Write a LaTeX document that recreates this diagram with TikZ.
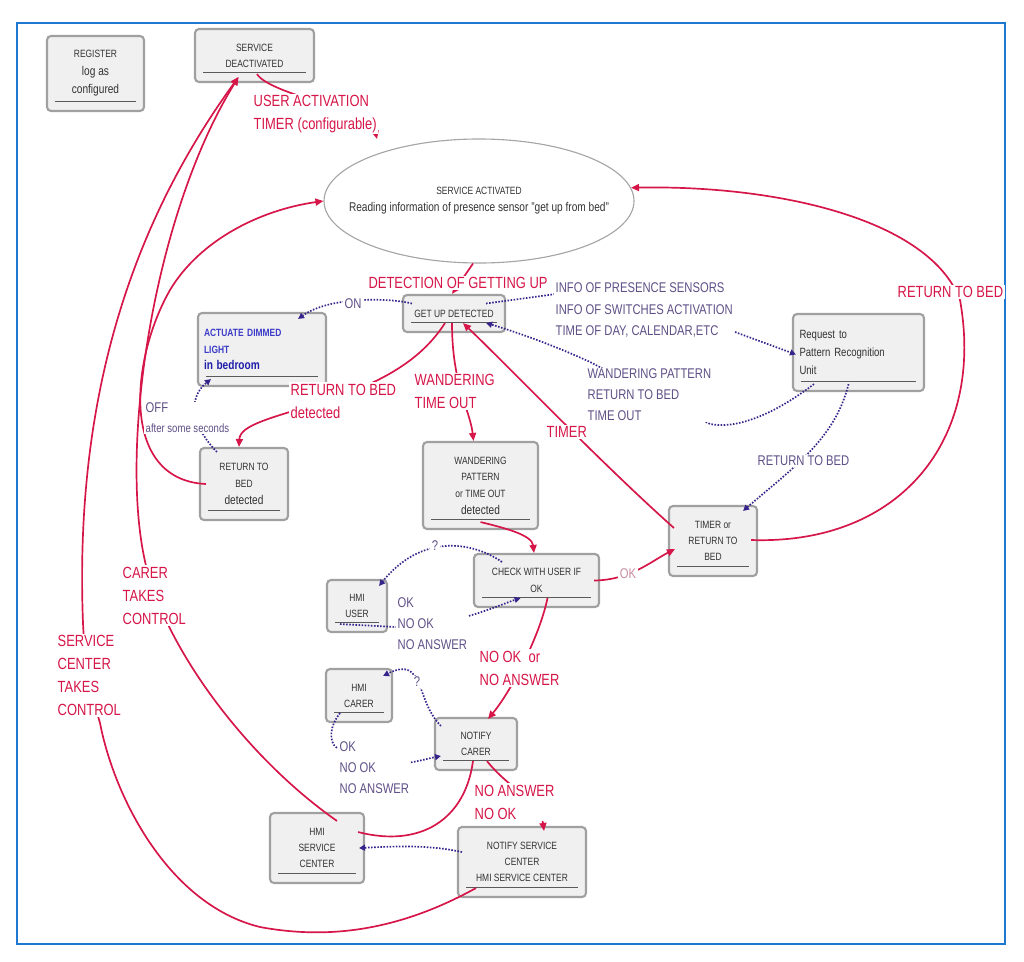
\documentclass[tikz,border=0pt]{standalone}
\usepackage{fontspec}
\setmainfont{Liberation Sans}[FakeStretch=0.8]
\usetikzlibrary{shapes.geometric,arrows.meta,calc}
\definecolor{redc}{RGB}{214,22,72}
\definecolor{purc}{RGB}{95,80,135}
\definecolor{dotc}{RGB}{55,35,140}
\definecolor{okc}{RGB}{200,140,160}
\definecolor{boxfill}{RGB}{240,240,240}
\definecolor{boxgray}{RGB}{160,160,160}
\definecolor{linegray}{RGB}{90,90,90}
\definecolor{boxtext}{RGB}{50,50,50}
\definecolor{ellgray}{RGB}{165,165,165}
\definecolor{lightblue}{RGB}{60,60,200}
\definecolor{darkblue}{RGB}{30,30,170}
\definecolor{framec}{RGB}{30,120,210}
\newcommand\boxbig{\fontsize{9}{12}\selectfont}
\pgfdeclarelayer{lines}
\pgfdeclarelayer{labels}
\pgfsetlayers{main,lines,labels}
\tikzset{
  innerline/.style={draw=linegray, line width=0.5pt},
  box/.style={draw=boxgray, line width=1.5pt, rounded corners=1mm, fill=boxfill,
    inner sep=0pt, align=center, text=boxtext, font=\fontsize{7.5}{11.4}\selectfont,
    path picture={\draw[innerline] ([xshift=2mm,yshift=2.3mm]path picture bounding box.south west)
      -- ([xshift=-2mm,yshift=2.3mm]path picture bounding box.south east);}},
  redlbl/.style={text=redc, fill=white, font=\fontsize{11.5}{16.4}\selectfont, align=left, inner sep=1pt, anchor=west},
  purlbl/.style={text=purc, fill=white, font=\fontsize{10}{15}\selectfont, align=left, inner sep=1pt, anchor=west},
  redplain/.style={draw=redc, line width=1.2pt},
  redarrow/.style={redplain, -{Triangle[length=2mm,width=1.75mm]}},
  dotarrow/.style={draw=dotc, line width=1.2pt, dash pattern=on 1.1pt off 1.1pt, -{Triangle[length=1.5mm,width=1.5mm]}},
}
\begin{document}
\begin{tikzpicture}[x=0.25mm, y=-0.25mm]
  \useasboundingbox (0,0) rectangle (1024,961);
  \draw[framec, line width=1.4pt] (17,23) rectangle (1005,944);

  % states
  \node[box, minimum width=24.25mm, minimum height=18.75mm, font=\fontsize{7.5}{12.8}\selectfont] (reg) at (95.5,73.5) {REGISTER\\{\boxbig log as}\\{\boxbig configured}};
  \node[box, minimum width=29.75mm, minimum height=13.25mm] (deact) at (254.5,55.5) {SERVICE\\DEACTIVATED};
  \node[ellipse, draw=ellgray, line width=0.8pt, minimum width=77.5mm, minimum height=31mm, inner sep=0pt] (act) at (479,201) {};
  \node[align=center, text=boxtext, font=\fontsize{9}{12}\selectfont] (acttxt) at (act.center) {{\fontsize{7.5}{9}\selectfont SERVICE ACTIVATED}\\Reading information of presence sensor "get up from bed"};
  \node[box, minimum width=25.5mm, minimum height=9.25mm] (getup) at (454,313.5) {GET UP DETECTED};
  \node[box, minimum width=32mm, minimum height=18.25mm, align=left, text width=29mm, text=lightblue, font=\bfseries\fontsize{7.5}{11.6}\selectfont] (light) at (262,349.5) {ACTUATE DIMMED\\LIGHT\\{\fontsize{9}{11}\selectfont\color{darkblue}in bedroom}};
  \node[box, minimum width=22mm, minimum height=18mm, font=\fontsize{7.5}{12}\selectfont] (retbed) at (244,484) {RETURN TO\\BED\\{\boxbig detected}};
  \node[box, minimum width=28.75mm, minimum height=21.75mm, font=\fontsize{7.5}{11.8}\selectfont] (wander) at (480.5,485.5) {WANDERING\\PATTERN\\or TIME OUT\\{\boxbig detected}};
  \node[box, minimum width=32.75mm, minimum height=19.25mm, align=left, text width=29.5mm, font=\fontsize{8.5}{13}\selectfont] (request) at (858.5,352.5) {Request to\\Pattern Recognition\\Unit};
  \node[box, minimum width=22mm, minimum height=17.5mm] (timer) at (713,541) {TIMER or\\RETURN TO\\BED};
  \node[box, minimum width=31.25mm, minimum height=13.25mm, font=\fontsize{7.5}{12}\selectfont] (check) at (536.5,580.5) {CHECK WITH USER IF\\OK};
  \node[box, minimum width=15mm, minimum height=13mm] (hmiuser) at (357,606) {HMI\\USER};
  \node[box, minimum width=16.5mm, minimum height=13.25mm] (hmicarer) at (359,695.5) {HMI\\CARER};
  \node[box, minimum width=20.5mm, minimum height=13mm] (notcarer) at (476,744) {NOTIFY\\CARER};
  \node[box, minimum width=23.5mm, minimum height=17.5mm] (hmisc) at (317,848) {HMI\\SERVICE\\CENTER};
  \node[box, minimum width=32mm, minimum height=17.5mm] (notsc) at (522,862) {NOTIFY SERVICE\\CENTER\\HMI SERVICE CENTER};

  % labels
  \begin{pgfonlayer}{labels}
  \node[redlbl] (useract) at (252,114) {USER ACTIVATION\\TIMER (configurable)};
  \node[redlbl, anchor=center] (detectlbl) at (458,283) {DETECTION OF GETTING UP};
  \node[redlbl] (retlbl) at (289,401) {RETURN TO BED\\detected};
  \node[redlbl] (wanderlbl) at (413,391.5) {WANDERING\\TIME OUT};
  \node[redlbl] (timerlbl) at (545,432) {TIMER};
  \node[redlbl] (retrightlbl) at (896,292) {RETURN TO BED};
  \node[redlbl] (carerlbl) at (121,595.5) {CARER\\TAKES\\CONTROL};
  \node[redlbl] (sclbl) at (56,675.5) {SERVICE\\CENTER\\TAKES\\CONTROL};
  \node[redlbl] (nookorlbl) at (478,668) {NO OK\ \ or\\NO ANSWER};
  \node[redlbl] (noanslbl) at (473,802) {NO ANSWER\\NO OK};
  \node[purlbl, anchor=center] (onlbl) at (353,304) {ON};
  \node[purlbl] (infolbl) at (554,310) {INFO OF PRESENCE SENSORS\\INFO OF SWITCHES ACTIVATION\\TIME OF DAY, CALENDAR,ETC};
  \node[purlbl] (wpatlbl) at (586,395) {WANDERING PATTERN\\RETURN TO BED\\TIME OUT};
  \node[purlbl] (retpurlbl) at (756,461) {RETURN TO BED};
  \node[purlbl, font=\fontsize{10}{14.2}\selectfont] (offlbl) at (144,418) {OFF\\{\fontsize{8.5}{10}\selectfont after some seconds}};
  \node[purlbl, anchor=center] (qulbl) at (435,546) {?};
  \node[purlbl] (okulbl) at (396,624) {OK\\NO OK\\NO ANSWER};
  \node[purlbl, anchor=center] (qclbl) at (417,682) {?};
  \node[purlbl] (okclbl) at (338,768) {OK\\NO OK\\NO ANSWER};
  \node[purlbl, text=okc, anchor=center] (oklbl) at (628,574) {OK};
  \end{pgfonlayer}

  \begin{pgfonlayer}{lines}
  % red transitions
  \draw[redarrow] ($(deact.south)+(2.5,-9)$) .. controls (270,95) and (370,110) .. ($(act.center)+(-102,-62)$);
  \draw[redarrow] ($(act.south)+(-6,0)$) -- ($(getup.north)+(-2,0)$);
  \draw[redarrow] ($(getup.south)+(-9,-10)$) .. controls (420,362) and (380,382) .. (330,400)
    .. controls (270,418) and (240,425) .. ($(retbed.north)+(-5,0)$);
  \draw[redarrow] ($(getup.south)+(-2,-10)$) .. controls (452,385) and (470,410) .. ($(wander.north)+(-7,0)$);
  \draw[redarrow] ($(timer.west)+(6,-13)$) .. controls (600,462) and (510,368) .. ($(getup.south)+(9,-10)$);
  \draw[redarrow] ($(wander.south)+(0,-8)$) .. controls (505,528) and (532,535) .. ($(check.north)+(-2.5,0)$);
  \draw[redarrow] ($(check.east)+(-6,0)$) .. controls (630,580) and (650,562) .. ($(timer.west)+(7,8)$);
  \draw[redarrow] ($(check.south)+(11,-10)$) .. controls (540,635) and (512,690) .. ($(notcarer.north)+(12,2)$);
  \draw[redarrow] ($(notcarer.south)+(11,-10)$) .. controls (510,790) and (540,800) .. ($(notsc.north)+(22,5)$);
  \draw[redplain] ($(notcarer.south)+(-3,-10)$) .. controls (465,820) and (420,848) .. ($(hmisc.east)+(-7,-16)$);
  \draw[redarrow] ($(hmisc.north)+(20,9)$) .. controls (250,760) and (175,660) .. (150,580)
    .. controls (115,470) and (150,220) .. ($(deact.south)+(-16,-6)$);
  \draw[redarrow] ($(notsc.south west)+(19,-10)$) .. controls (400,930) and (330,940) .. (260,927)
    .. controls (170,905) and (115,800) .. (100,723) .. controls (90,690) and (84,650) .. (83,623)
    .. controls (75,420) and (120,240) .. ($(deact.south)+(-16,-6)$);
  \draw[redarrow] ($(timer.east)+(-7,-1)$) .. controls (900,545) and (985,440) .. (960,300)
    .. controls (930,220) and (780,185) .. (act.5);
  \draw[redarrow] ($(retbed.west)+(7,0)$) .. controls (120,480) and (130,360) .. (170,290)
    .. controls (200,240) and (260,210) .. (act.west);
  % dotted information flows
  \draw[dotarrow] ($(getup.west)+(10,-10)$) .. controls (390,298) and (330,296) .. ($(light.north east)+(-29,7)$);
  \draw[dotarrow] ($(getup.east)+(-20,-10)$) -- (556,294) -- (735,332) -- ($(request.west)+(4,2)$);
  \draw[dotarrow] ($(request.south west)+(22,-8)$) .. controls (780,410) and (740,430) .. (710,424)
    -- (590,362) .. controls (560,348) and (520,333) .. ($(getup.south east)+(-20,-10)$);
  \draw[dotarrow] ($(request.south)+(-10,-8)$) .. controls (835,440) and (790,470) .. ($(timer.north east)+(-15,6)$);
  \draw[dotarrow] ($(retbed.north west)+(18,5)$) .. controls (195,430) and (185,400) .. ($(light.south west)+(14,-8)$);
  \draw[dotarrow] ($(check.north west)+(29,9)$) .. controls (470,540) and (420,535) .. ($(hmiuser.north east)+(-9,7)$);
  \draw[dotarrow] ($(hmiuser.south)+(-17,-9)$) -- (396,627) -- (465,617)
    .. controls (490,610) and (508,602) .. ($(check.south)+(-16,-10)$);
  \draw[dotarrow] ($(notcarer.north west)+(7,9)$) .. controls (415,700) and (425,655) .. ($(hmicarer.north east)+(-10,8)$);
  \draw[dotarrow] ($(hmicarer.south)+(-19,-10)$) .. controls (330,725) and (328,742) .. (337,748)
    -- (407,763) .. controls (420,761) and (430,758) .. ($(notcarer.west)+(7,12)$);
  \draw[dotarrow] ($(notsc.west)+(5,-10)$) .. controls (430,845) and (400,846) .. ($(hmisc.east)+(-6,0)$);
  \end{pgfonlayer}
\end{tikzpicture}
\end{document}
